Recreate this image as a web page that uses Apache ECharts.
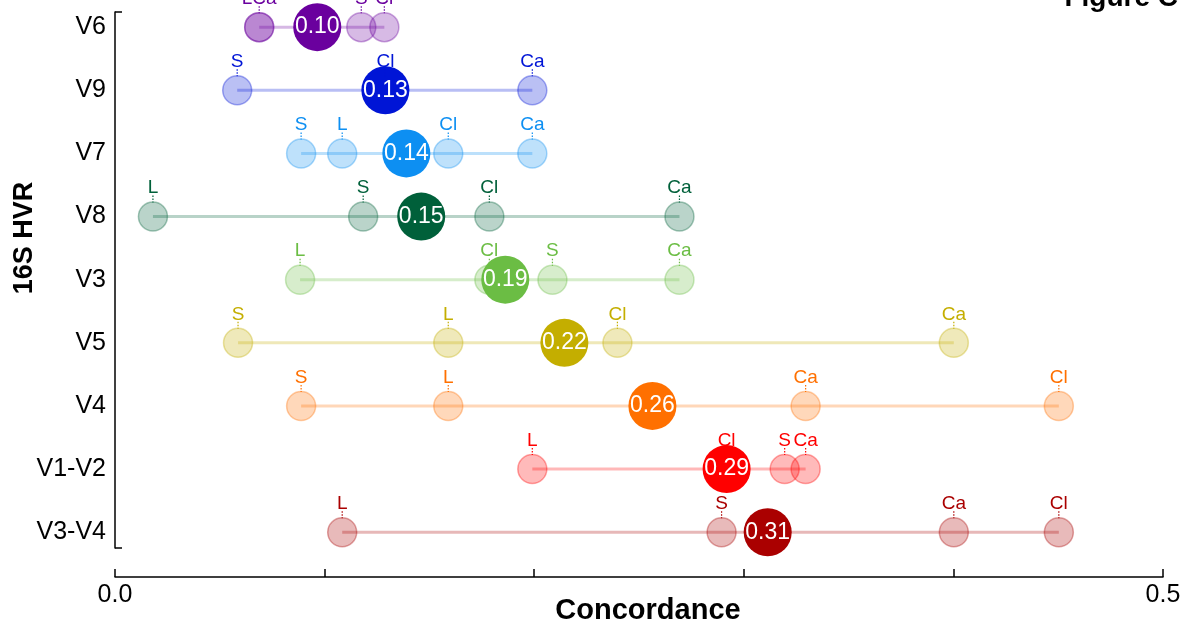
<!DOCTYPE html>
<html>
<head>
<meta charset="UTF-8"/>
<script type="text/javascript" src="https://cdn.jsdelivr.net/npm/echarts@6/dist/echarts.min.js"></script>
<title>Figure C</title>
<style>
    html, body {margin: 0; padding: 0; background: #fff;}
    #main {width: 1185px; height: 625px;}
</style>
</head>
<body>
<div id="main"></div>
<script type="text/javascript">
    // 16S hypervariable regions, top to bottom
    var regions = ['V6', 'V9', 'V7', 'V8', 'V3', 'V5', 'V4', 'V1-V2', 'V3-V4']
    var rowColors = ['#6a009e', '#0015d6', '#0d8ff2', '#00603a', '#6bbd44', '#c4ae00', '#ff7000', '#ff0000', '#aa0000']

    // concordance per method (null = not shown)
    var valL  = [0.0688, null,   0.1084, 0.0181, 0.0883, 0.1590, 0.1590, 0.1991, 0.1084]
    var valS  = [0.1175, 0.0583, 0.0888, 0.1184, 0.2087, 0.0587, 0.0888, 0.3195, 0.2894]
    var valCl = [0.1285, 0.1290, 0.1590, 0.1786, 0.1786, 0.2397, 0.4503, 0.2918, 0.4503]
    var valCa = [0.0688, 0.1991, 0.1991, 0.2693, 0.2693, 0.4002, 0.3295, 0.3295, 0.4002]

    // summary circle position and its printed value
    var meanPos = [0.0965, 0.1290, 0.1390, 0.1461, 0.1862, 0.2144, 0.2564, 0.2918, 0.3114]
    var meanLabels = ['0.10', '0.13', '0.14', '0.15', '0.19', '0.22', '0.26', '0.29', '0.31']

    var methods = [['L', valL], ['S', valS], ['Cl', valCl], ['Ca', valCa]]

    function rgba(hex, a) {
        var n = parseInt(hex.slice(1), 16)
        return 'rgba(' + (n >> 16) + ',' + ((n >> 8) & 255) + ',' + (n & 255) + ',' + a + ')'
    }

    // small points + labels (points on the same value share one label)
    var pointData = []
    var labelData = []
    for (var r = 0; r < regions.length; r++) {
        var groups = {}
        var order = []
        for (var m = 0; m < methods.length; m++) {
            var v = methods[m][1][r]
            if (v == null) continue
            pointData.push([v, r])
            if (!groups[v]) { groups[v] = ''; order.push(v) }
            groups[v] += methods[m][0]
        }
        for (var k = 0; k < order.length; k++) {
            labelData.push([order[k], r, groups[order[k]]])
        }
    }

    var series = []

    // range lines
    for (var i = 0; i < regions.length; i++) {
        var vals = methods.map(function (mm) { return mm[1][i] }).filter(function (x) { return x != null })
        series.push({
            type: 'line',
            z: 1,
            symbol: 'none',
            silent: true,
            lineStyle: {color: rgba(rowColors[i], 0.28), width: 3},
            data: [[Math.min.apply(null, vals), i], [Math.max.apply(null, vals), i]]
        })
    }

    series.push({
        type: 'custom',
        z: 2,
        data: pointData,
        encode: {x: 0, y: 1},
        renderItem: function (params, api) {
            var p = api.coord([api.value(0), api.value(1)])
            var c = rowColors[api.value(1)]
            return {
                type: 'circle',
                shape: {cx: p[0], cy: p[1], r: 14.5},
                style: {fill: rgba(c, 0.27), stroke: rgba(c, 0.35), lineWidth: 1.5}
            }
        }
    })

    series.push({
        type: 'custom',
        z: 4,
        data: labelData,
        encode: {x: 0, y: 1},
        renderItem: function (params, api) {
            var p = api.coord([api.value(0), api.value(1)])
            var c = rowColors[api.value(1)]
            return {
                type: 'group',
                children: [{
                    type: 'line',
                    shape: {x1: p[0], y1: p[1] - 21, x2: p[0], y2: p[1] - 14},
                    style: {stroke: c, lineWidth: 1.2, lineDash: [1.5, 1.5]}
                }, {
                    type: 'text',
                    style: {
                        x: p[0], y: p[1] - 19,
                        text: api.value(2),
                        fill: c,
                        font: '19px "Liberation Sans", Arial, sans-serif',
                        align: 'center',
                        verticalAlign: 'bottom'
                    }
                }]
            }
        }
    })

    series.push({
        type: 'scatter',
        z: 3,
        symbolSize: 48,
        data: meanPos.map(function (v, i) {
            return {value: [v, i], label: {formatter: meanLabels[i]}, itemStyle: {color: rowColors[i], opacity: 1}}
        }),
        label: {
            show: true,
            position: 'inside',
            color: '#fff',
            fontSize: 23,
            fontFamily: 'Liberation Sans'
        }
    })

    var option = {
        animation: false,
        backgroundColor: '#fff',
        textStyle: {fontFamily: '"Liberation Sans", Arial, sans-serif'},
        title: {
            text: 'Figure C',
            right: 2,
            top: -21,
            textStyle: {fontSize: 28, fontWeight: 'bold', color: '#000'}
        },
        grid: {left: 115, right: 22, top: 12, bottom: 77, outerBoundsMode: 'none'},
        xAxis: {
            type: 'value',
            min: 0,
            max: 0.5,
            interval: 0.1,
            offset: 29,
            splitLine: {show: false},
            axisLine: {onZero: false, lineStyle: {color: '#000', width: 1.5}},
            axisTick: {inside: true, length: 8, lineStyle: {color: '#000', width: 1.5}},
            axisLabel: {
                fontSize: 25, color: '#000', margin: 6,
                formatter: function (v) { return v === 0 ? '0.0' : (Math.abs(v - 0.5) < 1e-9 ? '0.5' : '') }
            },
            name: 'Concordance',
            nameLocation: 'middle',
            nameGap: 19,
            nameMoveOverlap: false,
            nameTextStyle: {fontSize: 29, fontWeight: 'bold', color: '#000', padding: [0, 0, 0, 18]}
        },
        yAxis: {
            type: 'value',
            inverse: true,
            min: -0.24,
            max: 8.25,
            splitLine: {show: false},
            axisLine: {show: true, onZero: false, lineStyle: {color: '#000', width: 1.5}},
            axisTick: {show: true, inside: true, length: 7, customValues: [-0.24, 8.25], lineStyle: {color: '#000', width: 1.5}},
            axisLabel: {
                customValues: [0, 1, 2, 3, 4, 5, 6, 7, 8],
                fontSize: 25, color: '#000', margin: 9,
                formatter: function (v) { return regions[Math.round(v)] }
            },
            name: '16S HVR',
            nameLocation: 'middle',
            nameGap: 77,
            nameMoveOverlap: false,
            nameTextStyle: {fontSize: 27, fontWeight: 'bold', color: '#000', padding: [0, 0, 0, 84]}
        },
        series: series
    }

    var myChart = echarts.init(document.getElementById('main'))
    myChart.setOption(option)
</script>
</body>
</html>
